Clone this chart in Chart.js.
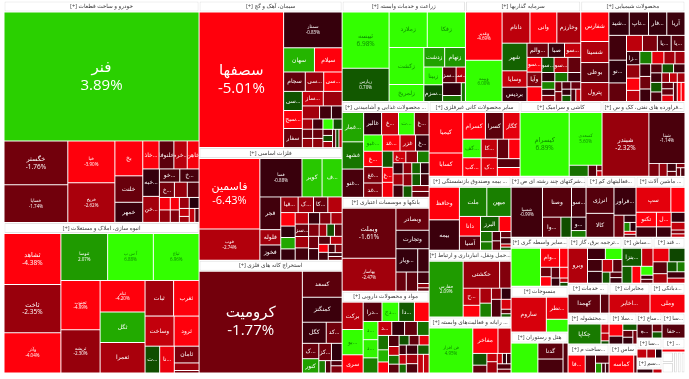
<!DOCTYPE html>
<html>
<head>
<meta charset="utf-8">
<style>
  html, body { margin: 0; padding: 0; background: #fff; }
  canvas { display: block; }
</style>
<script src="https://cdn.jsdelivr.net/npm/chart.js@4/dist/chart.umd.js"></script>
</head>
<body>
<canvas id="marketMap" width="689" height="379"></canvas>
<script>
"use strict"

// sector names, in the order the map lays them out
var sectorNames = [
  "خودرو و ساخت قطعات [+]", "انبوه سازی، املاک و مستغلات [+]",
  "سیمان، آهک و گچ [+]", "فلزات اساسی [+]", "استخراج کانه های فلزی [+]",
  "زراعت و خدمات وابسته [+]", "سرمایه گذاریها [+]", "محصولات شیمیایی [+]",
  "… محصولات غذایی و آشامیدنی [+]", "بانکها و موسسات اعتباری [+]", "مواد و محصولات دارویی [+]",
  "سایر محصولات کانی غیرفلزی [+]", "کاشی و سرامیک [+]", "…فراورده های نفتی، کک و س [+]",
  "… بیمه وصندوق بازنشستگی [+]", "…حمل ونقل، انبارداری و ارتباط [+]", "… رایانه و فعالیت‌های وابسته [+]",
  "…شرکتهای چند رشته ای ص [+]", "…فعالیتهای کم [+]", "… ماشین آلات [+]",
  "…سایر واسطه گری [+]", "منسوجات [+]", "هتل و رستوران [+]",
  "…ترجمه برق، گاز [+]", "…ساش [+]", "… قند [+]",
  "… خدمات [+]", "…محتشوله [+]", "…ساخت م [+]",
  "مخابرات [+]", "…دبانکی [+]",
  "…سلا [+]", "ساس [+]",
  "…ساخ [+]", "…سا [+]",
  "…سا [+]", "…سم [+]",
  "… [+]", ""
];

// relative size of each sector
var sectorSizes = [
  43290, 29445,
  21021, 16159, 16159,
  12423, 11615, 10504,
  8352, 8178, 7134,
  6825, 6150, 6225,
  6068, 5494, 4592,
  4575, 3050, 2989,
  2793, 2622, 2337,
  2484, 1426, 1472,
  1230, 1271, 1189,
  1230, 1050,
  868, 812,
  625, 575,
  500, 375,
  322, 483
];

// how many sectors go in each strip of the map
var sectorStrips = [2, 3, 3, 3, 3, 3, 3, 3, 3, 3, 2, 2, 2, 2, 1, 1];

// symbols per sector, '' where the cell has no readable name
var cellLabels = [
  ["فنر", "خگستر", "خساپا", "خبا", "خریخ", "بخ", "خلنت", "خمهر", "…خاذ", "خلنوفا", "…خرم", "خاهن", "…خبه", "…خن", "…خو", "…خ", "…خ", "", "", "", "", "", "", "", "", "", "", "", ""],
  ["ثشاهد", "ثاخت", "وآذر", "ثنوسا", "آ س پ", "ثباغ", "ثجنوب", "ثریشه", "ثنام", "ثگل", "ثعمرا", "ثبات", "ثغرب", "وساخت", "ثرود", "…ث", "…نا", "ثامان", "", ""],
  ["سصفها", "سمتاز", "سهان", "سیلام", "سجام", "…سی", "…سی", "…سی", "…سبح", "سفار", "…ساز", "", "", "", "", "", "", "", "", "", "", "", "", "", "", "", "", "", ""],
  ["فاسمین", "فوب", "فسا", "کویر", "…ف", "فجر", "فلوله", "فخوز", "…فیا", "…ک", "…کا", "", "", "", "", "", "", "", "", "", "…سز", "", "", "", "", "", "", "", "", "", "", "", "", "", "", "", ""],
  ["کرومیت", "کسعد", "کمنگنز", "کگل", "…کد", "…ک", "کنور", "…کز", "", "", "", "", ""],
  ["ثیبسه", "زپارس", "زملارد", "زفکا", "زکشت", "زلمریخ", "زدشت", "زنهام", "زبینا", "…سزم", "…سز", "…سز", "", "", ""],
  ["وغدیر", "وبیمه", "دانام", "وانی", "وخارزم", "شهر", "وسایا", "بردیس", "…والم", "صبا", "…سو", "…سو", "وآیا", "", "…سو", "…سو", "", "", "", "", "", "", "", "", "", "", "", "", "", "", ""],
  ["شفارس", "شسینا", "بوعلی", "پترول", "…شید", "…تاپ", "…فار", "آریا", "", "…نو", "", "", "", "…یا", "…یا", "…زا", "", "", "", "", "", "", "", "", "", "", "", "", "", "", "", "", "", "", "", "", "", "", "", "", ""],
  ["…غمار", "غشهد", "…غنو", "غالبر", "…غ", "…ت", "…غ", "…غبو", "…غ", "…غغ", "…غد", "…غد", "غزر", "…غ", "", "…غ", "", "…غ", "", "", "", "", "", "", "", "", "", "", "", "", "", ""],
  ["وبملت", "بهاسار", "وبصادر", "وتجارت", "…ویار", "", "", "", "", "", ""],
  ["برکت", "…بو", "سری", "…درا", "…دج", "…دا", "", "…د", "…د", "", "…د", "", "", "", "", "", "", "", "", "", "", "", "", "", "", "", "", "", "", "", "", "", ""],
  ["کیمیا", "کسابا", "کسرام", "کسرا", "کگاز", "…کف", "…کب", "…کا", "…ک", "", "", "", ""],
  ["کیسرام", "کسعدی", "", "", "", ""],
  ["شبندر", "شپنا", "", "", "", "", "", "", ""],
  ["وحافظ", "بیمه", "ملت", "میهن", "دانا", "آسیا", "البرز", "", "", "", "", "", "", "", "", ""],
  ["حفارس", "حکشتی", "", "…ح", "", "", "", "", "", "", "", "", ""],
  ["فن افزار", "مفاخر", "", "", "", "", "", "", "", "", "", ""],
  ["شسپا", "وصنا", "…سو", "…وا", "", "…و", ""],
  ["انرژی", "کالا", "…فراور", "", "", "", "", "", ""],
  ["سپ", "", "تکنو", "", "…ل", "", "", "", "", ""],
  ["", "…وام", "", "", "", "", "", "", "", ""],
  ["ساروم", "…نطر", ""],
  ["", "گدنا", "", ""],
  ["وبرو", "", "", "", "", "", "", "", "", ""],
  ["…بنزا", "", "", "", "", "", ""],
  ["", "", "", "", "", "", "", ""],
  ["کهمدا", ""],
  ["چکاپا", "", "", ""],
  ["…فا", "", "", "", "", ""],
  ["…اخابر"],
  ["وملی"],
  ["", "", "", "", "", ""],
  ["کماسه", ""],
  ["…ه", "", ""],
  ["…حفا"],
  ["", "", ""],
  ["", ""],
  [""],
  ["", "", "", "", ""]
];

// cell sizes per sector, read as areas off the picture
var cellSizes = [
  [23000, 2562, 2196, 1800, 1710, 891, 675, 513, 418, 380, 342, 304, 418, 396, 247, 234, 210, 180, 165, 124, 124, 104, 104, 99, 99, 72, 54, 72, 54],
  [2805, 2640, 2200, 2116, 2070, 2070, 1862, 1634, 1364, 1320, 1320, 980, 875, 841, 725, 378, 378, 400, 180, 60],
  [9800, 1792, 638, 572, 360, 306, 306, 306, 289, 306, 260, 234, 192, 132, 120, 90, 81, 81, 90, 81, 81, 90, 80, 50, 50, 50, 50, 50, 50],
  [4011, 1777, 1512, 720, 720, 640, 300, 300, 255, 225, 210, 210, 182, 154, 154, 154, 143, 121, 121, 121, 156, 143, 156, 121, 88, 88, 88, 115, 110, 88, 88, 72, 72, 54, 54, 50, 50],
  [10000, 984, 943, 480, 320, 240, 224, 208, 176, 78, 65, 55, 77],
  [2430, 1440, 1248, 1248, 1184, 544, 374, 374, 306, 289, 195, 135, 220, 104, 72],
  [1598, 1360, 784, 756, 672, 621, 368, 322, 273, 208, 208, 196, 196, 196, 168, 189, 175, 108, 90, 72, 72, 108, 108, 63, 63, 60, 66, 50, 50, 55, 55],
  [728, 520, 494, 468, 418, 396, 374, 374, 384, 352, 288, 225, 210, 195, 195, 156, 156, 143, 130, 132, 132, 121, 110, 120, 120, 120, 90, 90, 90, 93, 93, 93, 65, 65, 65, 65, 65, 65, 65, 65, 65],
  [560, 520, 540, 357, 336, 315, 294, 272, 255, 272, 238, 255, 225, 195, 154, 143, 143, 132, 120, 120, 100, 100, 110, 85, 85, 85, 95, 90, 90, 90, 90, 90],
  [2444, 1612, 660, 561, 462, 242, 180, 198, 120, 45, 35],
  [540, 500, 360, 342, 304, 285, 266, 252, 252, 210, 182, 168, 168, 154, 143, 121, 110, 110, 88, 88, 88, 90, 90, 90, 65, 65, 60, 100, 100, 100, 100, 100, 100],
  [1216, 704, 540, 425, 400, 306, 306, 270, 270, 198, 198, 180, 180],
  [2928, 1617, 198, 88, 28, 28],
  [2623, 1610, 117, 91, 64, 40, 33, 33, 33],
  [899, 841, 728, 644, 378, 273, 255, 165, 110, 90, 72, 72, 60, 60, 30, 30],
  [1696, 875, 275, 256, 176, 154, 143, 98, 98, 154, 88, 40, 30],
  [1845, 600, 312, 156, 104, 81, 110, 50, 40, 45, 70, 50],
  [1421, 784, 392, 336, 189, 180, 90],
  [650, 598, 550, 198, 78, 48, 48, 32, 32],
  [736, 299, 252, 180, 182, 130, 117, 91, 45, 40],
  [999, 324, 144, 90, 90, 81, 81, 63, 32, 28],
  [1023, 399, 231],
  [800, 400, 350, 150],
  [558, 165, 154, 143, 143, 108, 96, 70, 55, 55],
  [285, 165, 135, 120, 88, 40, 38],
  [154, 154, 120, 96, 70, 56, 80, 64],
  [600, 160],
  [510, 56, 48, 20],
  [255, 153, 91, 50, 30, 30],
  [780],
  [680],
  [144, 96, 78, 60, 60, 50],
  [345, 45],
  [196, 70, 56],
  [322],
  [81, 72, 54],
  [28, 16],
  [69],
  [100, 100, 67, 67, 67]
];

// percent change per cell, estimated from the colour where no number is readable
var cellChanges = [
  [3.89, -1.76, -1.74, -3.9, -2.62, -4.2, -1.6, -0.9, -3.9, -1.4, -2.8, -3.8, -0.8, -2.5, -1.2, -1.1, -1.8, -2.3, -1.3, -3.8, -2.3, -3.8, -2, -2.4, -0.6, -3, -2.5, -3, -1.2],
  [-4.38, -2.35, -4.04, 2.07, 6.88, 6.96, -4.99, -2.3, -4.2, 2.6, -2.6, -2.5, -4, -3, -4.3, 0.5, -3.6, -1.9, -2.4, -1.8],
  [-5.01, -0.83, 3, -4.5, -1.5, -2.3, -4, 0.6, -3.9, -1.6, -3, -2.4, -2.5, -1, -0.8, -2.6, -1.6, -2.3, -1, -1.6, -2.2, 5, 0.5, -1.3, 0.5, -2.5, -1.4, 0.5, -3],
  [-6.43, -2.74, -0.88, 3.6, 4, -1, -2.5, -0.9, -2.4, -2.4, -1.6, -2.8, -4.2, -0.7, 2.5, -0.8, -2.9, -0.9, -2, -2.6, -1.6, -2.5, -1, -2, -2.5, 0.5, -1.5, -1.7, -0.9, -1.3, -2.8, -3.8, -1, -1.1, -2, -0.9, -1.6],
  [-1.77, -1.4, -0.9, -0.9, -1.7, -1.6, 2.3, -1.7, -0.7, 1.5, -1.3, -1.2, -2],
  [6.98, 0.7, 5, 5.3, 6, 5.5, 2.3, 2, 5.5, 0.4, -1.4, -2.8, -0.7, 1.2, 1.3],
  [-4.69, 6, -2.9, -3.9, -2.6, 0.9, -3, -0.9, -1.7, -0.9, -3, -4.2, -2, -4.2, 0.5, -2.8, -1.5, -0.8, 1.6, -0.9, -2, 1.3, -0.9, -1.5, -2, -1.2, -1.6, -0.8, 0.7, -1.1, -3],
  [-4.3, -2.7, -1.5, -2.4, -0.8, -0.9, -0.8, -0.9, -1, -0.7, -1.5, -2.9, -1.9, -1, -1.3, -0.9, -2.3, -3.9, -2.9, 1.5, -3.5, -2.5, -2.5, -0.9, -1.7, -0.9, -1.3, 0.6, -1, -1, 0.7, -1.1, -2.3, -3, -2.5, -1.5, -1.5, -3.5, -1.4, -4, -4],
  [2.5, 1.3, -1.1, -0.8, -3, 5, -1.8, 5, -4.2, -1.9, -2, -4, -2.9, -0.9, 0.7, -3.8, -3.8, -3.2, -2.2, 1.5, -0.9, -2.5, -1, -2.2, 1, -0.7, -2.2, 0.7, 0.8, -1, -2, -1.5],
  [-1.61, -2.47, -1.6, -0.9, -0.8, -0.9, -1.6, -1.4, -1, -2.2, -1.5],
  [-2.8, 5.5, -4, -1.3, 5, 0.7, -4.5, 5, 4.8, 1.5, -3, -0.8, -1.5, 1.2, 1.2, 3, -4, -1.2, -3, 1.2, -1.4, 0.6, -1.5, -3.5, -1, -3, 1, -0.9, 0.8, -2.5, -1.2, -3, -3],
  [-4.5, -4.5, -4, -1.4, -3.5, 5, -4, -3, -3.5, -1.5, -4, -1.3, -3.8],
  [6.89, 5.6, 1.2, -1.3, -1.5, -3],
  [-2.32, -1.14, -1.9, -2.3, -1, -1.5, -2, -1.5, -1.2],
  [-4.5, -0.9, 1.5, 1.5, -4.2, -1.3, 0.8, -4.2, 1.2, 1.4, -1.1, -1.4, -1.5, -1, -3, 0.6],
  [2.09, -2.3, -2, -3, -4.5, -2.6, 1.5, -2.2, -0.7, -1.2, -3.3, -1.5, 0.8],
  [4.95, -3.9, -3, 0.6, -1.5, -3, -2.5, -3, -0.8, -1, -1.2, -1.8],
  [-0.99, -1.3, -1.1, -1.4, 0.5, -0.7, 1.4],
  [-1.3, -1.2, -0.9, -1.7, -0.8, 1.7, -0.7, -3.5, -1.4],
  [-3.5, -4.5, -4.5, -1, -4, -0.9, -0.8, -3, -2, -3],
  [6, -3.8, -4, -1.6, -4, -1.4, -3.8, -0.8, -3, 0.5],
  [-3.3, -3.6, 5.5],
  [5.5, -1.4, -1.1, -1.3],
  [-2.7, -0.9, 5.5, -1, -0.8, -3, -1.3, 0.7, -1.3, -0.9],
  [0.7, -3, 0.8, -4.2, 5, -0.8, -1.5],
  [-3.6, 0.4, -1.4, -2.6, 0.7, 1.5, -1, -3],
  [-1.5, -1.4],
  [1.4, -3, -2.9, 0.5],
  [-4, -1.3, -1.4, 2, -1, -1],
  [-3.2],
  [-3.8],
  [-4.3, -0.8, 0.7, -1.5, -0.8, -1.8],
  [-4, -1.5],
  [-1.2, -1.6, 0.7],
  [-1.3],
  [-3, -2.6, -0.5],
  [-0.8, -3],
  [-3.8],
  [0, 0, 0, 0, 0]
];

// how many cells go in each strip inside a sector
var cellStrips = [
  [1, 2, 2, 3, 4, 2, 2, 3, 2, 2, 2, 2, 2],
  [3, 3, 2, 3, 2, 2, 1, 1, 1, 2],
  [1, 1, 2, 3, 3, 2, 3, 3, 3, 2, 3, 3],
  [2, 3, 3, 4, 4, 4, 3, 4, 2, 2, 2, 2, 2],
  [1, 1, 1, 2, 2, 2, 1, 1, 1, 1],
  [2, 2, 2, 2, 2, 2, 2, 1],
  [2, 3, 3, 3, 3, 3, 4, 2, 2, 2, 2, 2],
  [4, 4, 3, 4, 4, 4, 3, 3, 3, 3, 3, 3],
  [3, 4, 4, 3, 3, 3, 3, 3, 2, 2, 2],
  [2, 1, 1, 2, 1, 1, 1, 2],
  [3, 4, 3, 4, 3, 4, 3, 3, 2, 2, 2],
  [2, 3, 2, 2, 2, 2],
  [1, 1, 1, 1, 1, 1],
  [1, 1, 1, 1, 2, 1, 1, 1],
  [2, 2, 2, 2, 2, 2, 1, 1, 2],
  [1, 2, 2, 2, 2, 1, 1, 2],
  [1, 2, 2, 2, 3, 2],
  [1, 2, 1, 1, 1, 1],
  [2, 1, 1, 1, 2, 2],
  [2, 2, 2, 1, 1, 2],
  [1, 2, 2, 2, 1, 2],
  [1, 1, 1],
  [1, 2, 1],
  [1, 2, 2, 2, 1, 2],
  [2, 1, 1, 1, 2],
  [2, 2, 2, 2],
  [1, 1],
  [1, 1, 1, 1],
  [1, 1, 1, 1, 2],
  [1],
  [1],
  [2, 1, 2, 1],
  [1, 1],
  [1, 1, 1],
  [1],
  [1, 1, 1],
  [1, 1],
  [1],
  [2, 3]
];

var mapWidth = 689, mapHeight = 379;
var rootRect = { x: 4, y: 1, w: 681, h: 372 };
var headerHeight = 11;
var fontStack = "'Open Sans','DejaVu Sans',sans-serif";

function total(list) {
  return list.reduce(function (a, b) { return a + b; }, 0);
}

// cut a rect into strips: a column on the left if wide, a row on top if tall
function layoutStrips(sizes, strips, rect) {
  var rects = [];
  var left = total(sizes);
  var x = rect.x, y = rect.y, w = rect.w, h = rect.h;
  var i = 0;
  strips.forEach(function (n) {
    var part = sizes.slice(i, i + n);
    var sum = total(part);
    var share = sum / left;
    if (w >= h) {
      var cw = w * share, cy = y;
      part.forEach(function (v) {
        var ch = h * v / sum;
        rects.push({ x: x, y: cy, w: cw, h: ch });
        cy += ch;
      });
      x += cw; w -= cw;
    } else {
      var rh = h * share, cx = x;
      part.forEach(function (v) {
        var pw = w * v / sum;
        rects.push({ x: cx, y: y, w: pw, h: rh });
        cx += pw;
      });
      y += rh; h -= rh;
    }
    left -= sum;
    i += n;
  });
  return rects;
}

function lerpStops(stops, t) {
  for (var i = 1; i < stops.length; i++) {
    if (t <= stops[i][0]) {
      var a = stops[i - 1], b = stops[i];
      return a[1] + (b[1] - a[1]) * (t - a[0]) / (b[0] - a[0]);
    }
  }
  return stops[stops.length - 1][1];
}

var greenStops = [[0, 40], [0.5, 78], [2, 152], [3.9, 208], [5, 255]];

function cellColor(change) {
  if (change === 0) return "#ffffff";
  if (change < 0) {
    var r = Math.max(30, Math.min(255, -change * 65));
    return "rgb(" + Math.round(r) + ",0,12)";
  }
  var g = lerpStops(greenStops, change);
  return "rgb(" + Math.round(g * 0.2) + "," + Math.round(g) + ",0)";
}

function textColor(change) {
  return change >= 4.5 ? "#0c8a00" : "#ffffff";
}

// font size for the name and percent, from the cell area in pixels
function labelFont(area) {
  if (area >= 9000) return { size: 15, pct: true };
  if (area >= 3800) return { size: 11, pct: true };
  if (area >= 2400) return { size: 6.5, pct: true };
  if (area >= 1300) return { size: 4.5, pct: true };
  return { size: 6, pct: false };
}

var noSkip = { top: false, bottom: false, left: false, right: false };

// treemap cells drawn with the bar element, positioned through the x and y scales
class MarketMapController extends Chart.DatasetController {
  update() {
    var meta = this.getMeta();
    var xs = meta.xScale, ys = meta.yScale;
    var points = this.getDataset().data;
    meta.data.forEach(function (el, i) {
      var p = points[i];
      var left = xs.getPixelForValue(p.x), right = xs.getPixelForValue(p.x + p.w);
      var top = ys.getPixelForValue(p.y), bottom = ys.getPixelForValue(p.y + p.h);
      Object.assign(el, {
        x: (left + right) / 2,
        y: top + 0.5,
        base: bottom - 0.5,
        width: Math.max(right - left - 1, 0.5),
        height: bottom - top - 1,
        horizontal: false,
        borderSkipped: noSkip,
        enableBorderRadius: false,
        inflateAmount: 0,
        options: {
          backgroundColor: p.fill,
          borderColor: p.line,
          borderWidth: p.line ? 1 : 0,
          borderRadius: 0
        }
      });
    });
  }
  draw() {
    var ctx = this.chart.ctx;
    var points = this.getDataset().data;
    var els = this.getMeta().data;
    els.forEach(function (el) { el.draw(ctx); });
    els.forEach(function (el, i) {
      var p = points[i];
      if (!p.name) return;
      ctx.save();
      // keep the text inside its own cell
      ctx.beginPath();
      ctx.rect(el.x - el.width / 2, el.y, el.width, el.height);
      ctx.clip();
      ctx.textAlign = "center";
      ctx.textBaseline = "middle";
      if (p.header) {
        ctx.direction = "rtl";
        ctx.fillStyle = "#3a3a3a";
        ctx.font = "5.7px " + fontStack;
        ctx.fillText(p.name, el.x, (el.y + el.base) / 2);
      } else {
        var area = el.width * el.height;
        if (area >= 70) {
          var f = labelFont(area);
          var mid = (el.y + el.base) / 2;
          ctx.fillStyle = textColor(p.change);
          ctx.font = f.size + "px " + fontStack;
          ctx.direction = "rtl";
          ctx.fillText(p.name, el.x, f.pct ? mid - f.size * 0.6 : mid);
          if (f.pct) {
            ctx.direction = "ltr";
            ctx.fillText(p.change.toFixed(2) + "%", el.x, mid + f.size * 0.6);
          }
        }
      }
      ctx.restore();
    });
  }
}
MarketMapController.id = "marketMap";
MarketMapController.defaults = { datasetElementType: false, dataElementType: "bar" };
Chart.register(MarketMapController);

var sectorRects = layoutStrips(sectorSizes, sectorStrips, rootRect);
var datasets = sectorNames.map(function (name, s) {
  var r = sectorRects[s];
  var head = name ? headerHeight : 0;
  var body = { x: r.x, y: r.y + head, w: r.w, h: r.h - head };
  var cells = layoutStrips(cellSizes[s], cellStrips[s], body);
  var data = cells.map(function (c, i) {
    var change = cellChanges[s][i];
    return {
      x: c.x, y: c.y, w: c.w, h: c.h,
      name: cellLabels[s][i],
      change: change,
      fill: cellColor(change),
      line: change === 0 ? "#dddddd" : null
    };
  });
  if (head) {
    data.unshift({ x: r.x, y: r.y, w: r.w, h: head, name: name, header: true, fill: "#ffffff", line: "#e2e2e2" });
  }
  return { label: name, data: data };
});

var ctxM = document.getElementById("marketMap").getContext("2d");
var marketMap = new Chart(ctxM, {
  type: "marketMap",
  data: { datasets: datasets },
  options: {
    responsive: false,
    animation: false,
    parsing: false,
    events: [],
    layout: { padding: 0 },
    plugins: { legend: { display: false }, tooltip: { enabled: false } },
    scales: {
      x: { type: "linear", min: 0, max: mapWidth, display: false },
      y: { type: "linear", min: 0, max: mapHeight, reverse: true, display: false }
    }
  }
});
</script>
</body>
</html>
